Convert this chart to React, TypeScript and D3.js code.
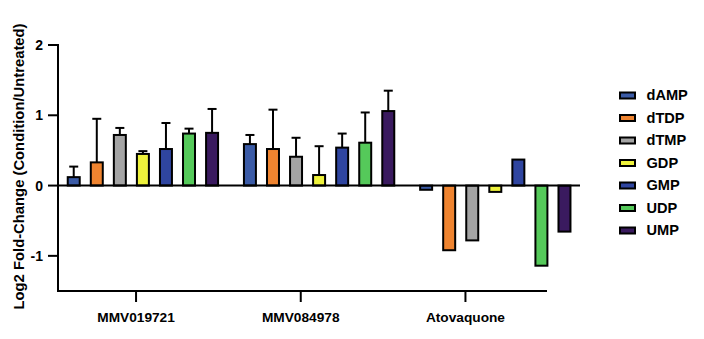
import React from "react";
import * as d3 from "d3";

const groups = ["MMV019721", "MMV084978", "Atovaquone"];
const series = ["dAMP", "dTDP", "dTMP", "GDP", "GMP", "UDP", "UMP"];
const colors = ["#3b5ba6", "#ef8430", "#a4a4a4", "#eef23c", "#2f45a0", "#55c95a", "#3a1a5f"];

const valuesMMV019721 = [0.12, 0.33, 0.72, 0.45, 0.52, 0.74, 0.75];
const errorsMMV019721 = [0.15, 0.62, 0.1, 0.04, 0.37, 0.07, 0.34];
const valuesMMV084978 = [0.59, 0.52, 0.41, 0.15, 0.54, 0.61, 1.06];
const errorsMMV084978 = [0.13, 0.56, 0.27, 0.41, 0.2, 0.43, 0.29];
const valuesAtovaquone = [-0.06, -0.92, -0.78, -0.09, 0.37, -1.14, -0.655];
const errorsAtovaquone = [0, 0, 0, 0, 0, 0, 0];

const yTicks = [-1, 0, 1, 2];
const yTitle = "Log2 Fold-Change (Condition/Untreated)";

const table = groups.map((g, gi) => ({
  group: g,
  values: [valuesMMV019721, valuesMMV084978, valuesAtovaquone][gi],
  errors: [errorsMMV019721, errorsMMV084978, errorsAtovaquone][gi],
}));

export default function App() {
  const W = 704, H = 339;
  const font = "'Liberation Sans', Arial, Helvetica, sans-serif";
  const y = d3.scaleLinear().domain([-1.5, 2]).range([291, 45]);
  const xGroup = d3.scaleBand<string>().domain(groups).range([62.2, 576]).paddingInner(0.084).paddingOuter(0);
  const xInner = d3.scaleBand<string>().domain(series).range([0, xGroup.bandwidth()]).paddingInner(0.48).paddingOuter(0.24);
  const xTick = d3.scaleBand<string>().domain(groups).range([53.7, 547.8]);
  const legendY = d3.scalePoint<string>().domain(series).range([95, 230]);
  const axisX0 = 58;
  const axisX1 = 547;
  const zeroEnd = 580;
  const sw = 2;

  return (
    <svg width={W} height={H} style={{ position: "absolute", left: 0, top: 0, background: "#fff" }} fontFamily={font}>
      <rect x={0} y={0} width={W} height={H} fill="#fff" />
      {/* bars */}
      {table.map((row) => (
        <g key={row.group} transform={`translate(${xGroup(row.group)},0)`}>
          {series.map((s, i) => {
            const v = row.values[i];
            const e = row.errors[i];
            const x0 = xInner(s)!;
            const bw = xInner.bandwidth();
            const top = y(Math.max(v, 0));
            const bot = y(Math.min(v, 0));
            const cx = x0 + bw / 2;
            const tipY = v >= 0 ? y(v + e) : y(v - e);
            return (
              <g key={s}>
                {e > 0 && (
                  <g stroke="#000" strokeWidth={sw}>
                    <line x1={cx} x2={cx} y1={v >= 0 ? top : bot} y2={tipY} />
                    <line x1={cx - 4.5} x2={cx + 4.5} y1={tipY} y2={tipY} />
                  </g>
                )}
                <rect x={x0} y={top} width={bw} height={bot - top} fill={colors[i]} stroke="#000" strokeWidth={sw} />
              </g>
            );
          })}
        </g>
      ))}
      {/* zero line */}
      <line x1={axisX0} x2={zeroEnd} y1={y(0)} y2={y(0)} stroke="#000" strokeWidth={sw} />
      {/* y axis */}
      <line x1={axisX0} x2={axisX0} y1={y(2) - 1} y2={y(-1.5) + 1} stroke="#000" strokeWidth={sw} />
      {yTicks.map((t) => (
        <g key={t}>
          <line x1={axisX0 - 10} x2={axisX0} y1={y(t)} y2={y(t)} stroke="#000" strokeWidth={sw} />
          <text x={axisX0 - 15} y={y(t)} dy="0.36em" textAnchor="end" fontSize={14} fontWeight="bold" fill="#000">
            {t}
          </text>
        </g>
      ))}
      {/* x axis */}
      <line x1={axisX0 - 1} x2={axisX1} y1={y(-1.5)} y2={y(-1.5)} stroke="#000" strokeWidth={sw} />
      {groups.map((g) => {
        const cx = xTick(g)! + xTick.bandwidth() / 2;
        return (
          <g key={g}>
            <line x1={cx} x2={cx} y1={y(-1.5)} y2={y(-1.5) + 11} stroke="#000" strokeWidth={sw} />
            <text x={cx} y={321.5} textAnchor="middle" fontSize={13.7} fontWeight="bold" fill="#000">
              {g}
            </text>
          </g>
        );
      })}
      {/* y title */}
      <text
        transform={`translate(19,166.5) rotate(-90)`}
        textAnchor="middle"
        dy="0.36em"
        fontSize={14.8}
        fontWeight="bold"
        fill="#000"
      >
        {yTitle}
      </text>
      {/* legend */}
      {series.map((s, i) => {
        const cy = legendY(s)!;
        return (
          <g key={s}>
            <rect x={620} y={cy - 2.5} width={15} height={6} fill={colors[i]} stroke="#000" strokeWidth={sw} />
            <text x={646.5} y={cy} dy="0.36em" fontSize={14.6} fontWeight="bold" fill="#000">
              {s}
            </text>
          </g>
        );
      })}
    </svg>
  );
}
